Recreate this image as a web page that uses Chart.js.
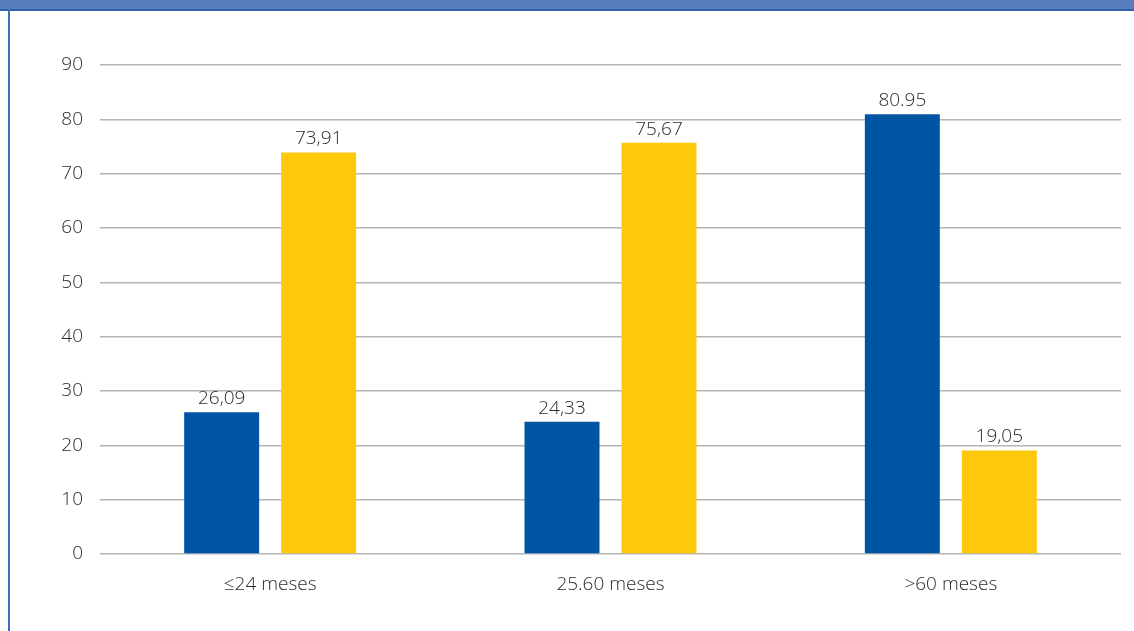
<!DOCTYPE html>
<html>
<head>
<meta charset="utf-8">
<script src="https://cdn.jsdelivr.net/npm/chart.js@4/dist/chart.umd.min.js"></script>
<style>
  html, body { margin: 0; padding: 0; background: #fff; }
  #wrap { position: relative; width: 1134px; height: 631px; overflow: hidden; }
  #head { position: absolute; left: 0; top: 0; width: 1134px; height: 9px; background: #5a7dbf; border-bottom: 2px solid #2d5fab; }
  #side { position: absolute; left: 8px; top: 9px; width: 2px; height: 622px; background: #3a70b8; }
  canvas { position: absolute; left: 0; top: 0; }
</style>
</head>
<body>
<div id="wrap">
  <canvas id="myChart" width="1134" height="631"></canvas>
  <div id="head"></div>
  <div id="side"></div>
</div>
<script>
let categories = ['≤24 meses', '25.60 meses', '>60 meses'];
let serieAzul = [26.09, 24.33, 80.95];
let serieAmarilla = [73.91, 75.67, 19.05];
let etiquetasAzul = ['26,09', '24,33', '80.95'];
let etiquetasAmarilla = ['73,91', '75,67', '19,05'];
let colorHex = ['#0054a4', '#fec90b'];

// draw the value above each bar
let valueLabels = {
  id: 'valueLabels',
  afterDatasetsDraw: (chart) => {
    let ctx = chart.ctx;
    ctx.save();
    ctx.font = '300 19px "Open Sans", sans-serif';
    ctx.fillStyle = '#2b2b2b';
    ctx.textAlign = 'center';
    ctx.textBaseline = 'bottom';
    chart.data.datasets.forEach((ds, i) => {
      chart.getDatasetMeta(i).data.forEach((bar, j) => {
        ctx.fillText(ds.labelsText[j], bar.x, bar.y - 4);
      });
    });
    ctx.restore();
  }
};

let ctx = document.getElementById('myChart').getContext('2d');
let myChart = new Chart(ctx, {
  type: 'bar',
  data: {
    labels: categories,
    datasets: [{
      data: serieAzul,
      labelsText: etiquetasAzul,
      backgroundColor: colorHex[0]
    }, {
      data: serieAmarilla,
      labelsText: etiquetasAmarilla,
      backgroundColor: colorHex[1]
    }]
  },
  options: {
    responsive: false,
    animation: false,
    layout: {
      padding: { top: 65, right: 13, bottom: 0, left: 0 }
    },
    datasets: {
      bar: {
        categoryPercentage: 0.57,
        barPercentage: 0.773
      }
    },
    plugins: {
      legend: { display: false },
      tooltip: { enabled: false }
    },
    scales: {
      x: {
        grid: { display: false, drawTicks: false },
        border: { display: false },
        ticks: {
          color: '#2b2b2b',
          padding: 19,
          font: { family: '"Open Sans", sans-serif', size: 19, weight: '300' }
        },
        afterFit: (scale) => { scale.height = 77; }
      },
      y: {
        min: 0,
        max: 90,
        ticks: {
          stepSize: 10,
          color: '#2b2b2b',
          padding: 17,
          font: { family: '"Open Sans", sans-serif', size: 19, weight: '300' }
        },
        grid: { color: '#b5b5b5', lineWidth: 1.5, drawTicks: false },
        border: { display: false },
        afterFit: (scale) => { scale.width = 100; }
      }
    }
  },
  plugins: [valueLabels]
});
</script>
</body>
</html>
